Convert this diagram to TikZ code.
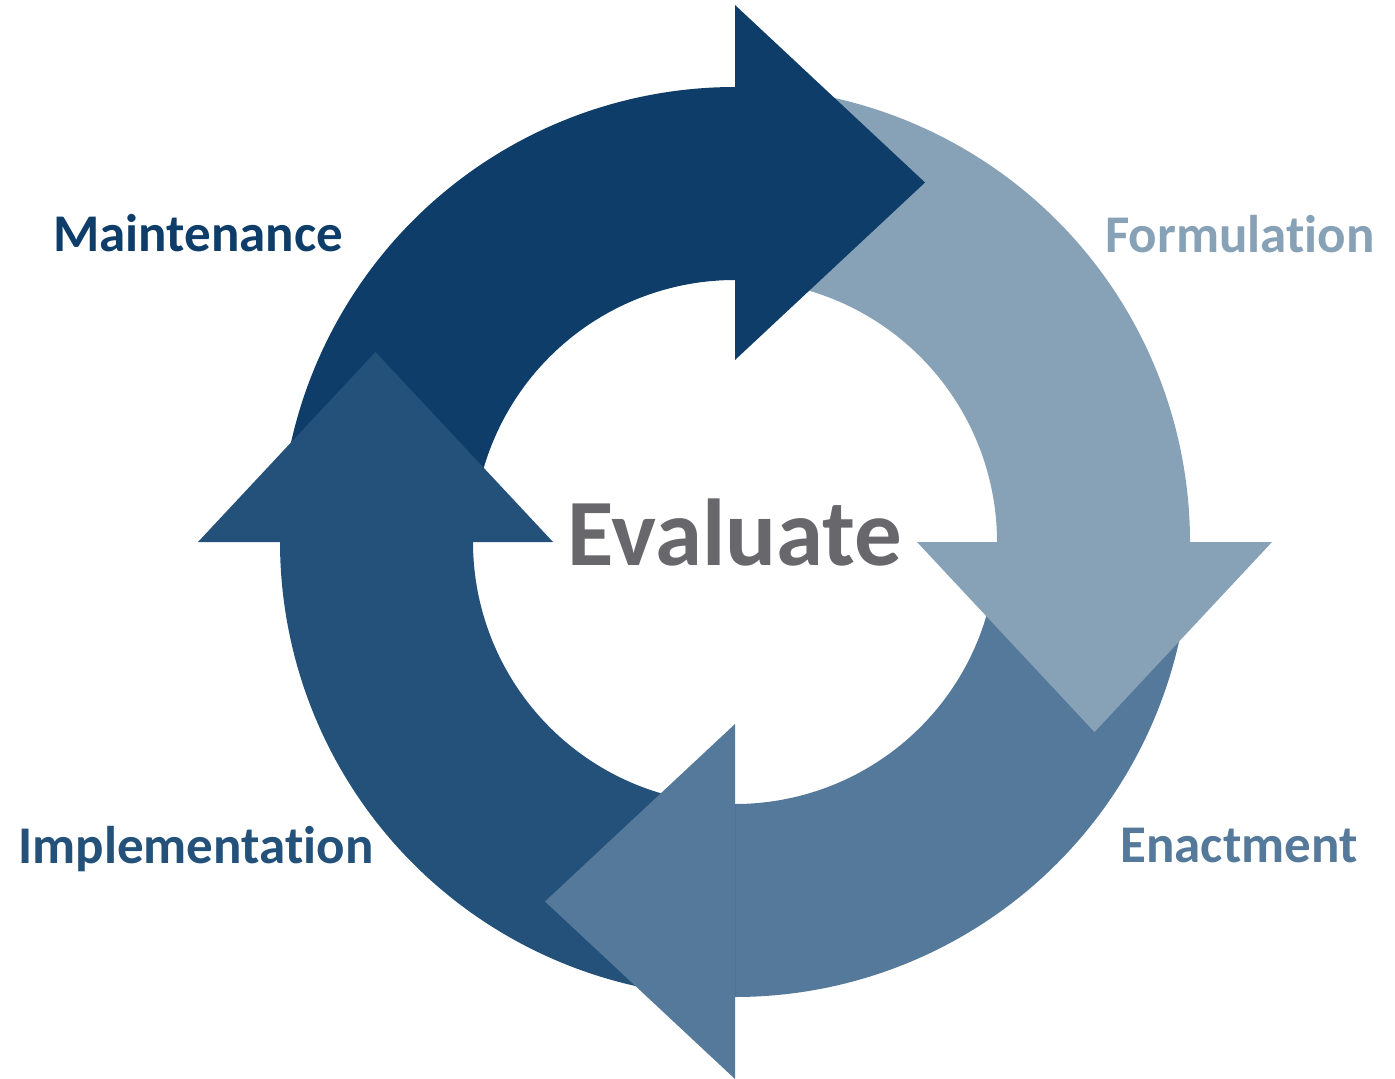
\documentclass[tikz,border=0pt]{standalone}
\usepackage{fontspec}
\setmainfont{Carlito}[Ligatures={NoCommon}]
\usetikzlibrary{calc}
\definecolor{cnavy}{HTML}{0D3D68}
\definecolor{cdark}{HTML}{235179}
\definecolor{cmed}{HTML}{55799A}
\definecolor{clight}{HTML}{87A1B7}
\definecolor{cgray}{HTML}{67676C}
\begin{document}
\begin{tikzpicture}[x=0.5pt,y=0.5pt,
  lbl/.style={font=\fontsize{26.5}{30}\selectfont\bfseries, anchor=base}]
\useasboundingbox (0,0) rectangle (1395,1078);
\coordinate (C) at (735,536);
% bodies (each extends slightly under its own head)
\fill[cnavy]  ($(C)+(180:455)$) arc[start angle=180,end angle=87,radius=455] -- ($(C)+(87:262)$) arc[start angle=87,end angle=180,radius=262] -- cycle;
\fill[clight] ($(C)+(90:455)$) arc[start angle=90,end angle=-3,radius=455] -- ($(C)+(-3:262)$) arc[start angle=-3,end angle=90,radius=262] -- cycle;
\fill[cmed]   ($(C)+(0:455)$) arc[start angle=0,end angle=-93,radius=455] -- ($(C)+(-93:262)$) arc[start angle=-93,end angle=0,radius=262] -- cycle;
\fill[cdark]  ($(C)+(-90:455)$) arc[start angle=-90,end angle=-183,radius=455] -- ($(C)+(-183:262)$) arc[start angle=-183,end angle=-90,radius=262] -- cycle;
% heads
\fill[cnavy]  ($(C)+(90:182)$) -- ($(C)+(90:537)$) -- ($(C)+(190,359.5)$) -- cycle;
\fill[clight] ($(C)+(0:182)$) -- ($(C)+(0:537)$) -- ($(C)+(359.5,-190)$) -- cycle;
\fill[cmed]   ($(C)+(-90:182)$) -- ($(C)+(-90:537)$) -- ($(C)+(-190,-359.5)$) -- cycle;
\fill[cdark]  ($(C)+(180:182)$) -- ($(C)+(180:537)$) -- ($(C)+(-359.5,190)$) -- cycle;
% labels
\node[lbl, text=cnavy]  (maint) at (198,826) {Maintenance};
\node[lbl, text=clight] (form)  at (1240,825) {Formulation};
\node[lbl, text=cmed]   (enact) at (1239,216) {Enactment};
\node[lbl, text=cdark]  (impl)  at (196,215) {Implementation};
\node[anchor=base, text=cgray, font=\fontsize{47.5}{52}\selectfont\bfseries] (eval) at (735,513) {Evaluate};
\end{tikzpicture}
\end{document}
